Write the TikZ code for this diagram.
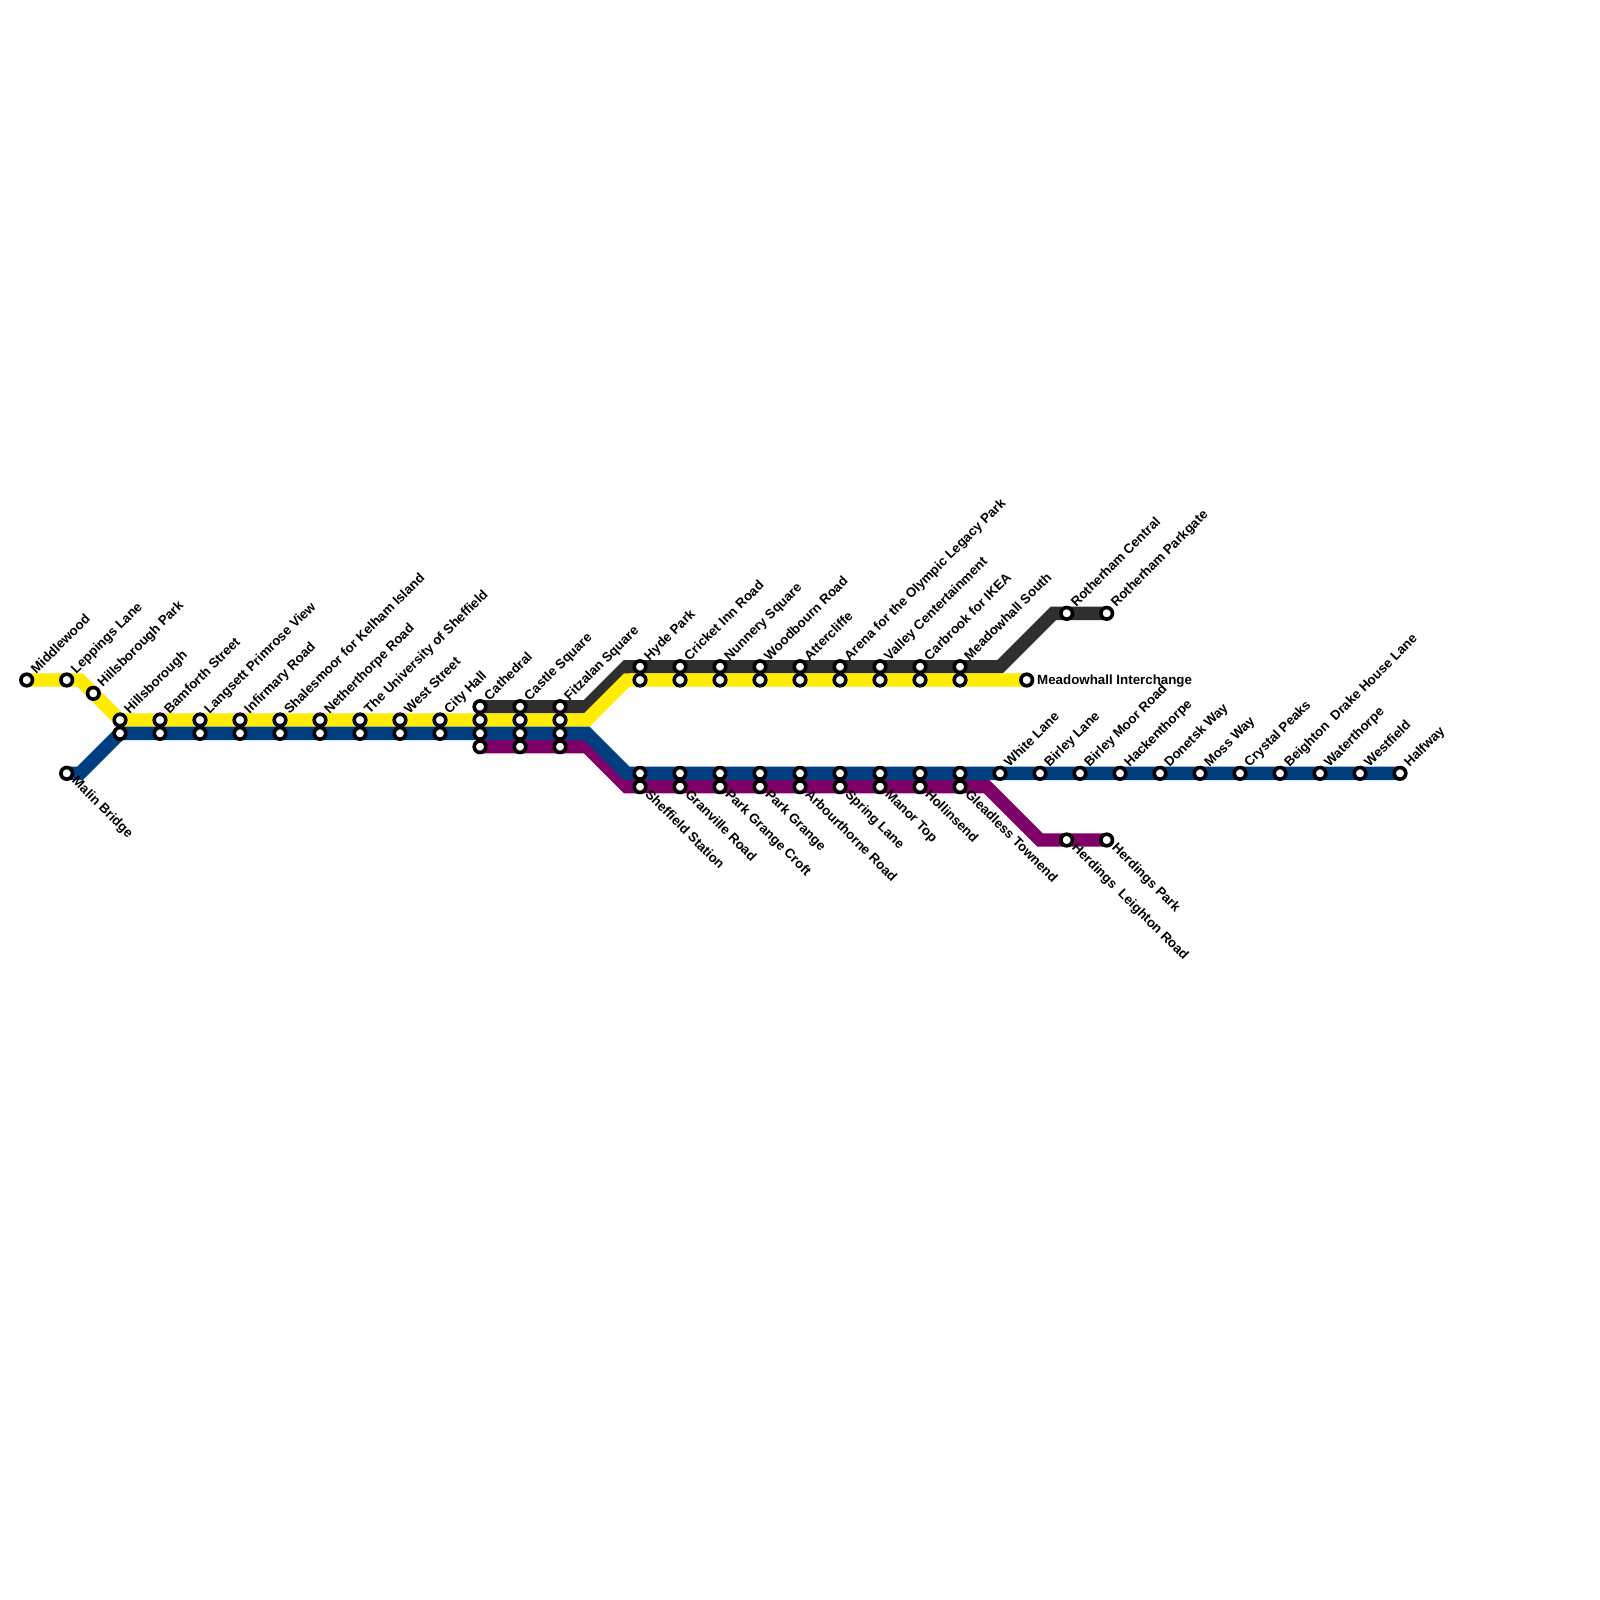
\documentclass[tikz,border=0pt]{standalone}
\usepackage{fontspec}
\setmainfont{Liberation Sans}
\definecolor{lyellow}{HTML}{FFEC00}
\definecolor{lblue}{HTML}{004080}
\definecolor{lpurple}{HTML}{7F0066}
\definecolor{lblack}{HTML}{2F2F2F}
\tikzset{
  stop/.style={circle,draw=black,fill=white,line width=3.6pt,minimum size=11.6pt,inner sep=0pt},
  lab/.style={font=\fontsize{13.33}{13.33}\selectfont\bfseries,inner sep=0pt,anchor=base west},
  track/.style={line width=13.33pt,line join=miter,line cap=butt},
}
% \su: name, x, y, label going up; \sd: label going down; \sn: no label
\newcommand{\su}[4]{\node[stop] (#1) at (#2,#3) {}; \node[lab,rotate=45] (#1t) at ($(#2,#3)+(9.5,-5.5)$) {#4};}
\newcommand{\sd}[4]{\node[stop] (#1) at (#2,#3) {}; \node[lab,rotate=-45] (#1t) at ($(#2,#3)+(4.5,8.5)$) {#4};}
\newcommand{\sn}[3]{\node[stop] (#1) at (#2,#3) {};}
\usetikzlibrary{calc}
\begin{document}
\begin{tikzpicture}[x=1pt,y=-1pt]
\useasboundingbox (0,0) rectangle (1600,1600);
\fill[white] (0,0) rectangle (1600,1600);
% bend points
\coordinate (y1) at (80,680);
\coordinate (y2) at (120,720);
\coordinate (y3) at (586.67,720);
\coordinate (y4) at (626.67,680);
\coordinate (b1) at (80,773.33);
\coordinate (b2) at (120,733.33);
\coordinate (b3) at (586.67,733.33);
\coordinate (b4) at (626.67,773.33);
\coordinate (k1) at (586.67,706.67);
\coordinate (k2) at (626.67,666.67);
\coordinate (k3) at (1000,666.67);
\coordinate (k4) at (1053.33,613.33);
\coordinate (p1) at (586.67,746.67);
\coordinate (p2) at (626.67,786.67);
\coordinate (p3) at (986.67,786.67);
\coordinate (p4) at (1040,840);
% line ends
\coordinate (ymw) at (26.67,680);
\coordinate (ymi) at (1026.67,680);
\coordinate (bmb) at (66.67,773.33);
\coordinate (bhw) at (1400,773.33);
\coordinate (kc) at (480,706.67);
\coordinate (krp) at (1106.67,613.33);
\coordinate (pc) at (480,746.67);
\coordinate (php) at (1106.67,840);
\draw[track,lblack] (kc) -- (k1) -- (k2) -- (k3) -- (k4) -- (krp);
\draw[track,lpurple] (pc) -- (p1) -- (p2) -- (p3) -- (p4) -- (php);
\draw[track,lyellow] (ymw) -- (y1) -- (y2) -- (y3) -- (y4) -- (ymi);
\draw[track,lblue] (bmb) -- (b1) -- (b2) -- (b3) -- (b4) -- (bhw);
% stops
\su{a1}{26.67}{680}{Middlewood}
\su{a2}{66.67}{680}{Leppings Lane}
\su{a3}{93.33}{693.33}{Hillsborough Park}
\sd{a4}{66.67}{773.33}{Malin Bridge}
\su{c1}{120}{720}{Hillsborough}\sn{c1b}{120}{733.33}
\su{c2}{160}{720}{Bamforth Street}\sn{c2b}{160}{733.33}
\su{c3}{200}{720}{Langsett Primrose View}\sn{c3b}{200}{733.33}
\su{c4}{240}{720}{Infirmary Road}\sn{c4b}{240}{733.33}
\su{c5}{280}{720}{Shalesmoor for Kelham Island}\sn{c5b}{280}{733.33}
\su{c6}{320}{720}{Netherthorpe Road}\sn{c6b}{320}{733.33}
\su{c7}{360}{720}{The University of Sheffield}\sn{c7b}{360}{733.33}
\su{c8}{400}{720}{West Street}\sn{c8b}{400}{733.33}
\su{c9}{440}{720}{City Hall}\sn{c9b}{440}{733.33}
\su{d1}{480}{706.67}{Cathedral}\sn{d1b}{480}{720}\sn{d1c}{480}{733.33}\sn{d1d}{480}{746.67}
\su{d2}{520}{706.67}{Castle Square}\sn{d2b}{520}{720}\sn{d2c}{520}{733.33}\sn{d2d}{520}{746.67}
\su{d3}{560}{706.67}{Fitzalan Square}\sn{d3b}{560}{720}\sn{d3c}{560}{733.33}\sn{d3d}{560}{746.67}
\su{e1}{640}{666.67}{Hyde Park}\sn{e1b}{640}{680}
\su{e2}{680}{666.67}{Cricket Inn Road}\sn{e2b}{680}{680}
\su{e3}{720}{666.67}{Nunnery Square}\sn{e3b}{720}{680}
\su{e4}{760}{666.67}{Woodbourn Road}\sn{e4b}{760}{680}
\su{e5}{800}{666.67}{Attercliffe}\sn{e5b}{800}{680}
\su{e6}{840}{666.67}{Arena for the Olympic Legacy Park}\sn{e6b}{840}{680}
\su{e7}{880}{666.67}{Valley Centertainment}\sn{e7b}{880}{680}
\su{e8}{920}{666.67}{Carbrook for IKEA}\sn{e8b}{920}{680}
\su{e9}{960}{666.67}{Meadowhall South}\sn{e9b}{960}{680}
\node[stop] (mi) at (1026.67,680) {};
\node[lab] (mit) at (1037,684.5) {Meadowhall Interchange};
\su{r1}{1066.67}{613.33}{Rotherham Central}
\su{r2}{1106.67}{613.33}{Rotherham Parkgate}
\sn{f1b}{640}{773.33}\sd{f1}{640}{786.67}{Sheffield Station}
\sn{f2b}{680}{773.33}\sd{f2}{680}{786.67}{Granville Road}
\sn{f3b}{720}{773.33}\sd{f3}{720}{786.67}{Park Grange Croft}
\sn{f4b}{760}{773.33}\sd{f4}{760}{786.67}{Park Grange}
\sn{f5b}{800}{773.33}\sd{f5}{800}{786.67}{Arbourthorne Road}
\sn{f6b}{840}{773.33}\sd{f6}{840}{786.67}{Spring Lane}
\sn{f7b}{880}{773.33}\sd{f7}{880}{786.67}{Manor Top}
\sn{f8b}{920}{773.33}\sd{f8}{920}{786.67}{Hollinsend}
\sn{f9b}{960}{773.33}\sd{f9}{960}{786.67}{Gleadless Townend}
\sd{h1}{1066.67}{840}{Herdings\ \ Leighton Road}
\sd{h2}{1106.67}{840}{Herdings Park}
\su{g1}{1000}{773.33}{White Lane}
\su{g2}{1040}{773.33}{Birley Lane}
\su{g3}{1080}{773.33}{Birley Moor Road}
\su{g4}{1120}{773.33}{Hackenthorpe}
\su{g5}{1160}{773.33}{Donetsk Way}
\su{g6}{1200}{773.33}{Moss Way}
\su{g7}{1240}{773.33}{Crystal Peaks}
\su{g8}{1280}{773.33}{Beighton\ \ Drake House Lane}
\su{g9}{1320}{773.33}{Waterthorpe}
\su{g10}{1360}{773.33}{Westfield}
\su{g11}{1400}{773.33}{Halfway}
\end{tikzpicture}
\end{document}
